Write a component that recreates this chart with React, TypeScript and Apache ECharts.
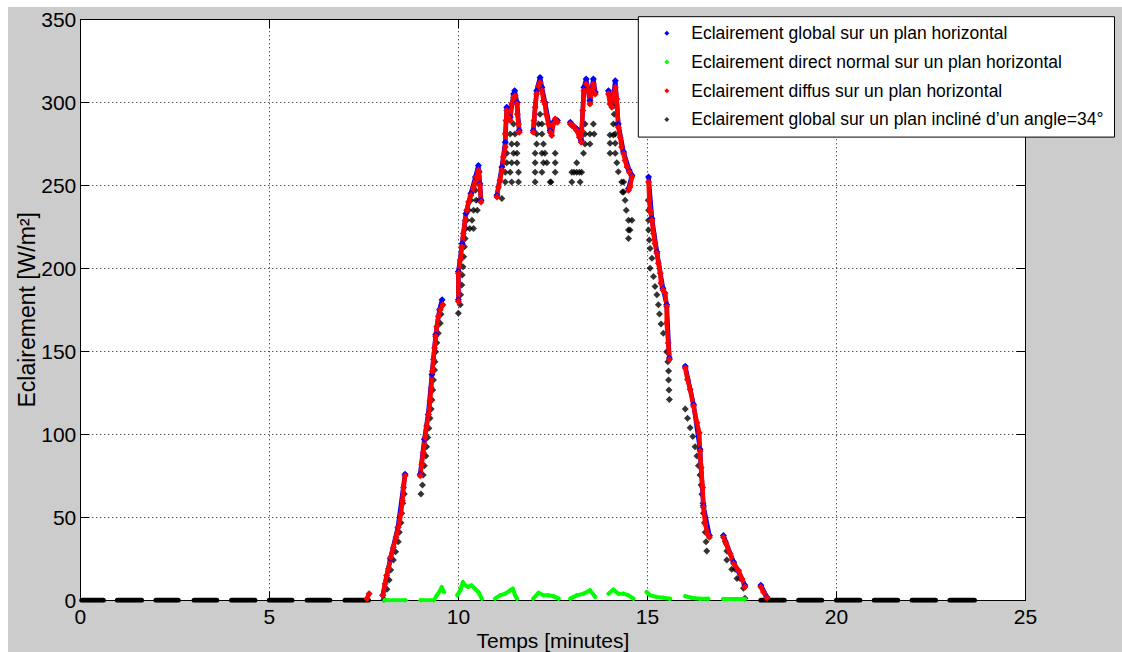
import React, { useEffect, useRef } from "react";
import * as echarts from "echarts";

const FONT = 'Arial, "Liberation Sans", Helvetica, sans-serif';

const NAME_GLOBAL = "Eclairement global sur un plan horizontal";
const NAME_DIRECT = "Eclairement direct normal sur un plan horizontal";
const NAME_DIFFUSE = "Eclairement diffus sur un plan horizontal";
const NAME_INCLINED = "Eclairement global sur un plan incliné d’un angle=34°";

const xTicks = [0, 5, 10, 15, 20, 25];
const yTicks = [0, 50, 100, 150, 200, 250, 300, 350];

// Diffuse (red), bursts of samples: [time, W/m2]
const diffuseSegments: number[][][] = [
  [[7.58, 1], [7.64, 4]],
  [[8.0, 3], [8.06, 10], [8.1, 15], [8.15, 19], [8.21, 26], [8.28, 32], [8.35, 38], [8.41, 44], [8.48, 52], [8.52, 60], [8.55, 68], [8.59, 75]],
  [[8.99, 75], [9.03, 82], [9.07, 89], [9.12, 98], [9.16, 105], [9.21, 112], [9.25, 120], [9.28, 128], [9.31, 138], [9.34, 145], [9.37, 152], [9.4, 159], [9.43, 165], [9.47, 171], [9.52, 175], [9.59, 178]],
  [[10.0, 180], [10.0, 197], [10.05, 205], [10.09, 213], [10.13, 221], [10.18, 229], [10.22, 235], [10.27, 240], [10.33, 244], [10.4, 249], [10.47, 255], [10.53, 259], [10.57, 250], [10.6, 240]],
  [[11.02, 243], [11.06, 249], [11.1, 253], [11.15, 259], [11.19, 267], [11.24, 273], [11.24, 281], [11.26, 289], [11.28, 295], [11.32, 291], [11.37, 289], [11.41, 299], [11.46, 303], [11.5, 304], [11.55, 299], [11.56, 293], [11.59, 287], [11.61, 282]],
  [[11.98, 282], [12.0, 289], [12.03, 297], [12.07, 305], [12.12, 310], [12.16, 312], [12.21, 307], [12.25, 301], [12.29, 299], [12.32, 293], [12.38, 287], [12.43, 282], [12.47, 280], [12.51, 287], [12.56, 290], [12.62, 288]],
  [[12.96, 287], [13.0, 286], [13.06, 285], [13.13, 283], [13.2, 279], [13.25, 276], [13.26, 283], [13.29, 295], [13.32, 307], [13.38, 311], [13.44, 307], [13.48, 299], [13.53, 307], [13.57, 311], [13.62, 305]],
  [[13.97, 305], [14.01, 299], [14.06, 297], [14.1, 303], [14.15, 309], [14.19, 302], [14.23, 285], [14.28, 279], [14.32, 273], [14.37, 269], [14.41, 265], [14.46, 261], [14.52, 258], [14.59, 255], [14.54, 249], [14.5, 247]],
  [[15.03, 252], [15.05, 241], [15.07, 235], [15.12, 229], [15.16, 221], [15.2, 215], [15.25, 209], [15.29, 203], [15.34, 197], [15.36, 191], [15.41, 187], [15.47, 185], [15.51, 177], [15.51, 167], [15.55, 155], [15.58, 145]],
  [[16.0, 140], [16.06, 133], [16.13, 127], [16.22, 117], [16.31, 107], [16.37, 101], [16.39, 90], [16.42, 80], [16.46, 68], [16.48, 56], [16.53, 46], [16.59, 40], [16.64, 38]],
  [[17.01, 38], [17.08, 34], [17.19, 28], [17.28, 22], [17.41, 18], [17.5, 13], [17.58, 8]],
  [[18.0, 8], [18.07, 5], [18.16, 1.5]],
];

// Global horizontal (blue), mostly hidden under the diffuse curve
const globalSegments: number[][][] = [
  [[8.0, 3], [8.2, 25], [8.4, 44], [8.59, 76]],
  [[8.99, 76], [9.1, 97], [9.2, 112], [9.3, 136], [9.4, 160], [9.5, 175], [9.57, 181]],
  [[10.0, 181], [10.0, 198], [10.1, 215], [10.2, 233], [10.33, 245], [10.45, 255], [10.53, 262], [10.57, 251], [10.6, 241]],
  [[11.02, 244], [11.15, 261], [11.24, 276], [11.28, 297], [11.37, 291], [11.46, 305], [11.49, 307], [11.55, 300], [11.61, 283]],
  [[11.98, 283], [12.07, 307], [12.16, 315], [12.21, 309], [12.29, 300], [12.43, 283], [12.51, 288], [12.62, 289]],
  [[12.96, 288], [13.13, 284], [13.25, 277], [13.32, 309], [13.38, 314], [13.48, 301], [13.57, 314], [13.62, 306]],
  [[13.97, 307], [14.06, 298], [14.15, 313], [14.23, 287], [14.37, 270], [14.52, 259], [14.59, 256], [14.5, 248]],
  [[15.03, 255], [15.12, 230], [15.25, 210], [15.41, 188], [15.51, 178], [15.58, 146]],
  [[16.0, 141], [16.22, 118], [16.39, 91], [16.48, 57], [16.64, 39]],
  [[17.01, 39], [17.28, 23], [17.58, 9]],
  [[18.0, 9], [18.16, 2]],
];

// Direct normal (green)
const directSegments: number[][][] = [
  [[8.05, 0], [8.6, 0]],
  [[9.0, 0], [9.35, 0], [9.43, 3], [9.52, 6], [9.56, 8], [9.62, 5]],
  [[9.97, 3], [10.05, 6], [10.12, 11], [10.18, 9], [10.26, 8], [10.35, 9], [10.44, 7], [10.53, 5], [10.62, 1]],
  [[10.97, 1], [11.1, 3], [11.24, 4], [11.37, 6], [11.44, 7], [11.5, 3], [11.55, 1]],
  [[11.98, 1], [12.12, 4.5], [12.25, 3], [12.38, 3], [12.51, 2.5], [12.65, 1]],
  [[12.96, 1], [13.13, 3], [13.31, 4], [13.48, 6], [13.62, 2]],
  [[13.97, 4], [14.1, 6.5], [14.23, 4], [14.37, 4], [14.5, 3], [14.63, 1]],
  [[14.98, 5], [15.07, 3], [15.25, 2], [15.42, 1.5], [15.6, 1]],
  [[16.0, 2.5], [16.17, 1.5], [16.39, 1], [16.61, 1]],
  [[17.0, 0.8], [17.58, 0.8]],
];

// Global on 34° inclined plane (black), individual samples
const inclinedPoints: number[][] = [
  [8.03, 0.6], [8.11, 6.6], [8.17, 12.2], [8.21, 18.3], [8.28, 24.3], [8.34, 29.3], [8.41, 35.3], [8.44, 41], [8.48, 46.7], [8.5, 52.4], [8.53, 58.4], [8.57, 64],
  [9.01, 64], [9.05, 69.5], [9.07, 75.5], [9.1, 81], [9.14, 87], [9.16, 92.5], [9.19, 98], [9.22, 103.6], [9.25, 109.6], [9.28, 115.2], [9.3, 120.7], [9.32, 126.7], [9.34, 132.7], [9.37, 138.7], [9.38, 143.7], [9.4, 149.8], [9.43, 155.2], [9.47, 160.8], [9.52, 166.9], [9.54, 172.3], [9.56, 177.9],
  [10.0, 172.9], [10.05, 178], [10.06, 184], [10.09, 190], [10.1, 196], [10.12, 201], [10.14, 207], [10.16, 213], [10.18, 218], [10.2, 224], [10.3, 224], [10.4, 224], [10.22, 229], [10.36, 229], [10.27, 235], [10.4, 235], [10.5, 235], [10.33, 241], [10.47, 241], [10.55, 241], [10.45, 247], [10.5, 252], [10.55, 258],
  [11.15, 242], [11.24, 252], [11.41, 252], [11.59, 252], [11.24, 257.8], [11.37, 257.8], [11.59, 257.8], [11.28, 263.6], [11.41, 263.6], [11.55, 263.6], [11.28, 269.3], [11.46, 269.3], [11.55, 269.3], [11.41, 274.9], [11.55, 274.9], [11.37, 280.9], [11.5, 280.9], [11.46, 287],
  [12.03, 252], [12.43, 252], [12.45, 252], [12.03, 257.8], [12.21, 257.8], [12.56, 257.8], [12.03, 263.6], [12.25, 263.6], [12.34, 263.6], [12.56, 263.6], [12.03, 269.3], [12.21, 269.3], [12.29, 269.3], [12.56, 269.3], [12.07, 274.9], [12.25, 274.9], [12.07, 280.9], [12.21, 280.9], [12.12, 287], [12.21, 287], [12.16, 292.8],
  [13.0, 252], [13.22, 252], [13.0, 257.8], [13.06, 257.8], [13.13, 257.8], [13.2, 257.8], [13.26, 257.8], [13.13, 263.6], [13.31, 269.3], [13.35, 274.9], [13.48, 274.9], [13.35, 280.9], [13.48, 280.9], [13.59, 280.9], [13.35, 287], [13.57, 287],
  [14.12, 298], [14.12, 292.8], [14.1, 287], [14.19, 287], [14.01, 280.3], [14.1, 280.3], [14.15, 280.9], [14.01, 275.3], [14.15, 275.3], [14.01, 269.3], [14.15, 269.3], [14.19, 263.6], [14.23, 258.2], [14.32, 252], [14.37, 252], [14.34, 246], [14.37, 246], [14.41, 241], [14.44, 235], [14.5, 229], [14.59, 229], [14.5, 223], [14.54, 223], [14.5, 218],
  [15.02, 241], [15.03, 235], [15.03, 229], [15.03, 223], [15.05, 217], [15.07, 212], [15.12, 206], [15.07, 200], [15.16, 195], [15.2, 189], [15.25, 184], [15.29, 178], [15.32, 172.5], [15.36, 166.4], [15.42, 160.8], [15.51, 149.8], [15.54, 143.7], [15.56, 138.1], [15.56, 132.7], [15.57, 126.7], [15.58, 121],
  [16.0, 115.2], [16.06, 109.6], [16.13, 104], [16.2, 98.6], [16.26, 92.5], [16.31, 86.9], [16.35, 81.1], [16.39, 75.5], [16.42, 69.5], [16.44, 63.9], [16.47, 58.4], [16.48, 52.4], [16.51, 46.7], [16.53, 41], [16.55, 35.3], [16.57, 29.7],
  [17.06, 35.3], [17.1, 29.7], [17.1, 24.3], [17.23, 18.7], [17.32, 18.7], [17.37, 13.2], [17.45, 13.2], [17.54, 7.2], [17.58, 1.2],
];

// Night-time bursts where the inclined-plane value is 0: [start, end] in minutes
const inclinedZeroBursts: number[][] = [
  [0.04, 0.61], [0.98, 1.62], [2.0, 2.59], [3.01, 3.61], [4.0, 4.62], [5.0, 5.6], [6.0, 6.6], [7.0, 7.62],
  [18.0, 18.62], [19.0, 19.61], [20.0, 20.62], [21.0, 21.62], [22.0, 22.62], [23.0, 23.65],
];

const BLUE = "#0000ff";
const GREEN = "#00ff00";
const RED = "#ff0000";
const BLACK = "#000000";

function lineSeg(name: string, color: string, data: number[][], width: number, sym: number) {
  return {
    type: "line",
    name,
    data,
    showSymbol: sym > 0,
    symbol: "diamond",
    symbolSize: sym,
    itemStyle: { color },
    lineStyle: { color, width, cap: "round", join: "round" },
    emphasis: { disabled: true },
    silent: true,
  };
}

export default function App() {
  const ref = useRef<HTMLDivElement>(null);

  useEffect(() => {
    if (!ref.current) return;
    const chart = echarts.init(ref.current, undefined, { renderer: "svg" });

    const series: any[] = [];
    globalSegments.forEach((s) => series.push(lineSeg(NAME_GLOBAL, BLUE, s, 4.5, 7)));
    directSegments.forEach((s) => series.push(lineSeg(NAME_DIRECT, GREEN, s, 4, 5)));
    diffuseSegments.forEach((s) => series.push(lineSeg(NAME_DIFFUSE, RED, s, 4.5, 7)));
    series.push({
      type: "scatter",
      name: NAME_INCLINED,
      data: inclinedPoints,
      symbol: "diamond",
      symbolSize: 7,
      itemStyle: { color: BLACK },
      emphasis: { disabled: true },
      silent: true,
    });
    inclinedZeroBursts.forEach((b) =>
      series.push(lineSeg(NAME_INCLINED, BLACK, [[b[0], 0], [b[1], 0]], 5, 0))
    );

    const axisCommon = {
      type: "value",
      axisLine: { show: true, onZero: false, lineStyle: { color: "#000", width: 1 } },
      axisTick: { show: true, inside: true, length: 9, lineStyle: { color: "#000", width: 1 } },
    };

    chart.setOption({
      animation: false,
      backgroundColor: "transparent",
      textStyle: { fontFamily: FONT },
      grid: {
        left: 72.3,
        top: 12.3,
        right: 96.5,
        bottom: 51.7,
        containLabel: false,
        outerBoundsMode: "none",
        show: true,
        backgroundColor: "#ffffff",
        borderWidth: 0,
      },
      legend: {
        show: true,
        data: [NAME_GLOBAL, NAME_DIRECT, NAME_DIFFUSE, NAME_INCLINED],
        orient: "vertical",
        left: 630.3,
        top: 9.7,
        icon: "diamond",
        itemWidth: 5,
        itemHeight: 5,
        itemGap: 8.7,
        padding: [6.6, 11, 7.7, 26],
        backgroundColor: "#ffffff",
        borderColor: "#000000",
        borderWidth: 1,
        borderRadius: 0,
        selectedMode: false,
        textStyle: {
          fontFamily: FONT,
          fontSize: 17.5,
          color: "#000",
          lineHeight: 20,
          padding: [0, 0, 0, 17],
        },
      },
      xAxis: [
        {
          ...axisCommon,
          position: "bottom",
          min: xTicks[0],
          max: xTicks[xTicks.length - 1],
          interval: 5,
          axisLabel: { color: "#000", fontSize: 21, fontFamily: FONT, margin: 6 },
          splitLine: { show: true, lineStyle: { color: "#111", width: 1, type: [1, 3] } },
          name: "Temps [minutes]",
          nameLocation: "middle",
          nameGap: 30,
          nameMoveOverlap: false,
          nameTextStyle: { color: "#000", fontSize: 21, fontFamily: FONT },
        },
        {
          ...axisCommon,
          position: "top",
          min: xTicks[0],
          max: xTicks[xTicks.length - 1],
          interval: 5,
          axisLabel: { show: false },
          splitLine: { show: false },
        },
      ],
      yAxis: [
        {
          ...axisCommon,
          position: "left",
          min: yTicks[0],
          max: yTicks[yTicks.length - 1],
          interval: 50,
          axisLabel: { color: "#000", fontSize: 21, fontFamily: FONT, margin: 4 },
          splitLine: { show: true, lineStyle: { color: "#111", width: 1, type: [1, 3] } },
          name: "Eclairement [W/m²]",
          nameLocation: "middle",
          nameGap: 42,
          nameMoveOverlap: false,
          nameTextStyle: { color: "#000", fontSize: 23, fontFamily: FONT },
        },
        {
          ...axisCommon,
          position: "right",
          min: yTicks[0],
          max: yTicks[yTicks.length - 1],
          interval: 50,
          axisLabel: { show: false },
          splitLine: { show: false },
        },
      ],
      series,
    });

    return () => chart.dispose();
  }, []);

  return (
    <div style={{ position: "fixed", left: 0, top: 0, width: 1122, height: 652, background: "#ffffff", overflow: "hidden" }}>
      <div
        ref={ref}
        style={{ position: "absolute", left: 8, top: 7, width: 1114, height: 645, background: "#cccccc" }}
      />
    </div>
  );
}
